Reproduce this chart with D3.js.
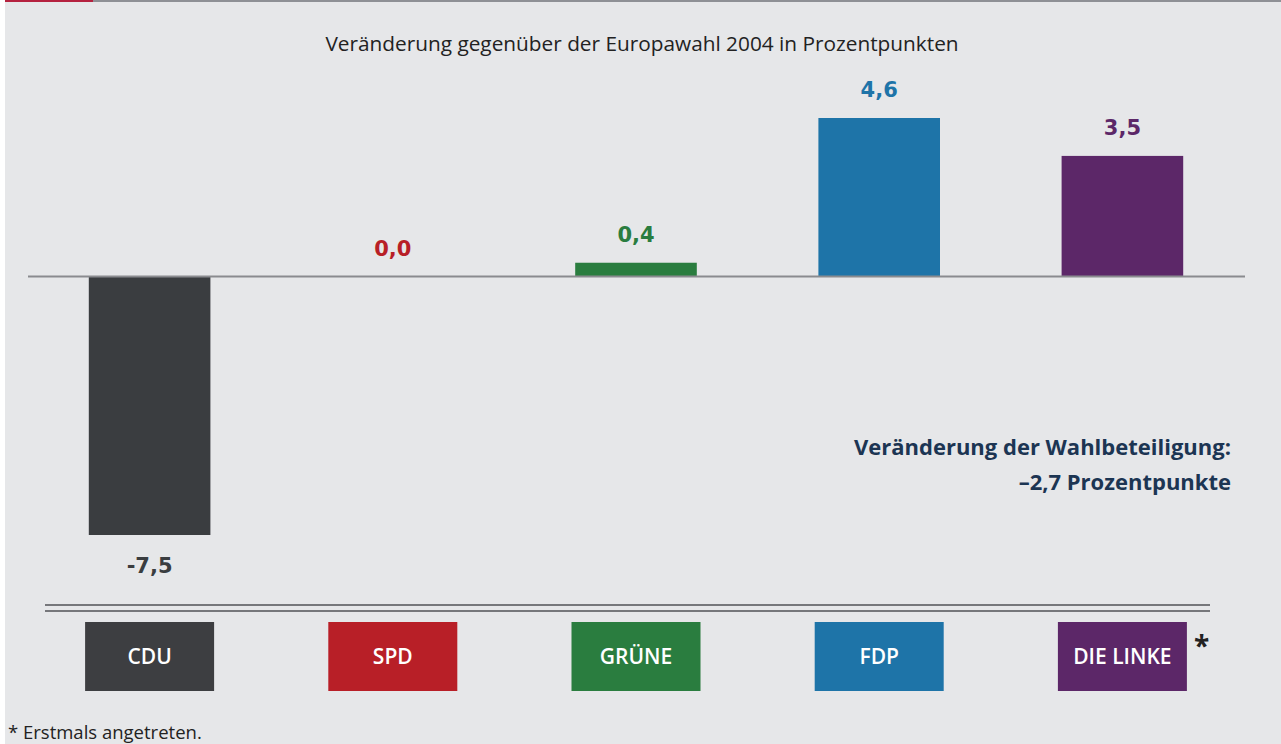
<!DOCTYPE html>
<html>
<head>
<meta charset="utf-8">
<script src="https://cdn.jsdelivr.net/npm/d3@7"></script>
<style>
  body { margin: 0; background: #fff; }
  svg { display: block; }
</style>
</head>
<body>
<script>
var parties = ["CDU", "SPD", "GRÜNE", "FDP", "DIE LINKE"];
var changes = [-7.5, 0.0, 0.4, 4.6, 3.5];
var colors = ["#3a3d40", "#b81f27", "#2a7d3f", "#1e74a8", "#5c2768"];
var firstTime = [false, false, false, false, true];

var title = "Veränderung gegenüber der Europawahl 2004 in Prozentpunkten";
var turnoutLines = ["Veränderung der Wahlbeteiligung:", "–2,7 Prozentpunkte"];
var footnote = "* Erstmals angetreten.";

var width = 1281, height = 744;

var svg = d3.select("body").append("svg")
    .attr("width", width)
    .attr("height", height);

// background panel + top rule
svg.append("rect").attr("x", 5).attr("y", 0).attr("width", width - 5).attr("height", height).attr("fill", "#e6e7e9");
svg.append("rect").attr("x", 5).attr("y", 0).attr("width", width - 5).attr("height", 2).attr("fill", "#8e9095");
svg.append("rect").attr("x", 5).attr("y", 0).attr("width", 88).attr("height", 2).attr("fill", "#b5223f");

var x = d3.scaleBand()
    .domain(parties)
    .range([28, 1244])
    .paddingInner(0.5)
    .paddingOuter(0.25);

var y = d3.scaleLinear()
    .domain([-7.5, 4.6])
    .range([535, 118]);

svg.append("text")
    .attr("x", 642).attr("y", 51)
    .attr("text-anchor", "middle")
    .attr("font-family", "Open Sans")
    .attr("font-size", 20.8)
    .attr("fill", "#222")
    .text(title);

svg.selectAll("rect.bar")
  .data(parties)
  .enter()
  .append("rect")
    .attr("class", "bar")
    .attr("x", function(d) { return x(d); })
    .attr("width", x.bandwidth())
    .attr("y", function(d, i) { return y(Math.max(0, changes[i])); })
    .attr("height", function(d, i) { return Math.abs(y(changes[i]) - y(0)); })
    .attr("fill", function(d, i) { return colors[i]; });

svg.append("line")
    .attr("x1", 28).attr("x2", 1245)
    .attr("y1", y(0)).attr("y2", y(0))
    .attr("stroke", "#8a8b8f")
    .attr("stroke-width", 2);

svg.selectAll("text.val")
  .data(parties)
  .enter()
  .append("text")
    .attr("class", "val")
    .attr("x", function(d) { return x(d) + x.bandwidth() / 2; })
    .attr("y", function(d, i) {
      return changes[i] < 0 ? y(changes[i]) + 38 : y(changes[i]) - 21;
    })
    .attr("text-anchor", "middle")
    .attr("font-family", "DejaVu Sans")
    .attr("font-weight", "bold")
    .attr("font-size", 21)
    .attr("fill", function(d, i) { return colors[i]; })
    .text(function(d, i) { return d3.format(".1f")(changes[i]).replace(".", ",").replace("−", "-"); });

// turnout note
svg.selectAll("text.note")
  .data(turnoutLines)
  .enter()
  .append("text")
    .attr("class", "note")
    .attr("x", 1231)
    .attr("y", function(d, i) { return 455 + i * 35; })
    .attr("text-anchor", "end")
    .attr("font-family", "Open Sans")
    .attr("font-weight", "bold")
    .attr("font-size", 22)
    .attr("fill", "#1c3553")
    .text(function(d) { return d; });

// double rule
[605, 611].forEach(function(ly) {
  svg.append("line")
      .attr("x1", 45).attr("x2", 1210)
      .attr("y1", ly).attr("y2", ly)
      .attr("stroke", "#76777b")
      .attr("stroke-width", 2);
});

// party boxes
var boxW = 129, boxH = 69;
var box = svg.selectAll("g.box")
  .data(parties)
  .enter()
  .append("g")
    .attr("class", "box")
    .attr("transform", function(d) {
      return "translate(" + (x(d) + x.bandwidth() / 2 - boxW / 2) + ",622)";
    });

box.append("rect")
    .attr("width", boxW)
    .attr("height", boxH)
    .attr("fill", function(d, i) { return i == 0 ? "#3d3e41" : colors[i]; });

box.append("text")
    .attr("x", boxW / 2)
    .attr("y", boxH / 2 + 7)
    .attr("text-anchor", "middle")
    .attr("font-family", "Open Sans")
    .attr("font-weight", 600)
    .attr("font-size", 21)
    .attr("fill", "#fff")
    .text(function(d) { return d; });

box.filter(function(d, i) { return firstTime[i]; })
  .append("text")
    .attr("x", boxW + 7)
    .attr("y", 34)
    .attr("font-family", "Open Sans")
    .attr("font-weight", "bold")
    .attr("font-size", 28)
    .attr("fill", "#222")
    .text("*");

svg.append("text")
    .attr("x", 8).attr("y", 739)
    .attr("font-family", "Open Sans")
    .attr("font-size", 18.5)
    .attr("fill", "#222")
    .text(footnote);
</script>
</body>
</html>
